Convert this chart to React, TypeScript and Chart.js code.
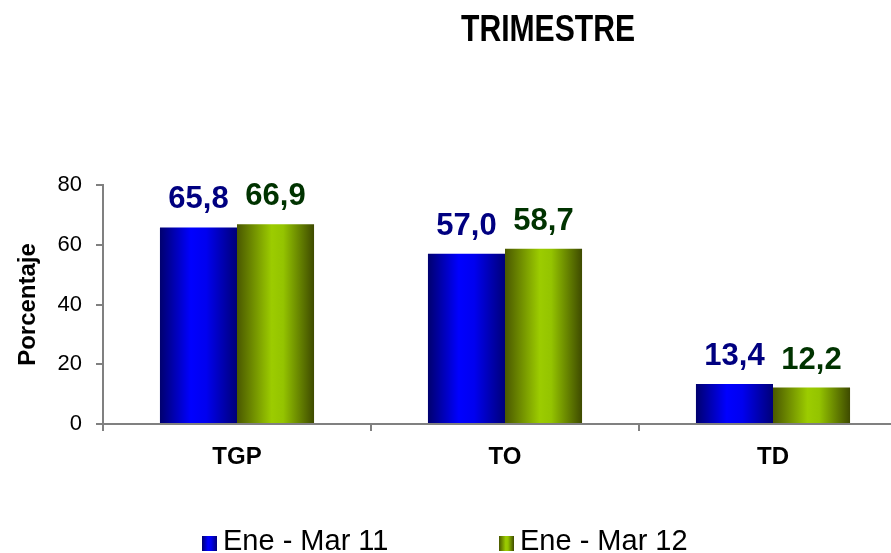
import React, { useEffect, useRef } from "react";
import { Chart, registerables } from "chart.js";

Chart.register(...registerables);

const CATEGORIES = ["TGP", "TO", "TD"];
const SERIES_NAMES = ["Ene - Mar 11", "Ene - Mar 12"];
const SERIES_2011 = [65.8, 57.0, 13.4];
const SERIES_2012 = [66.9, 58.7, 12.2];
const Y_TICKS = [0, 20, 40, 60, 80];
const TITLE = "TRIMESTRE";
const Y_TITLE = "Porcentaje";

const CAT_PCT = 0.575;
const FONT = '"Liberation Sans", Arial, sans-serif';

const GRAD_STOPS = [
  [
    [0, "#00006e"],
    [0.4, "#0000ff"],
    [0.6, "#0000f0"],
    [1, "#000078"],
  ],
  [
    [0, "#4a5800"],
    [0.45, "#9ccc00"],
    [0.6, "#94c400"],
    [1, "#3e4a00"],
  ],
] as [number, string][][];

const LABEL_COLORS = ["#000080", "#003300"];
const SOLID = ["#0000ff", "#99cc00"];

function barGradient(c: any, ds: number) {
  const chart = c.chart;
  const xs = chart.scales && chart.scales.x;
  if (!xs || c.dataIndex == null || !isFinite(xs.width)) return SOLID[ds];
  const catW = xs.width / CATEGORIES.length;
  const bw = (catW * CAT_PCT) / 2;
  const center = xs.getPixelForValue(c.dataIndex);
  const left = ds === 0 ? center - bw : center;
  const g = chart.ctx.createLinearGradient(left, 0, left + bw, 0);
  GRAD_STOPS[ds].forEach(([o, col]) => g.addColorStop(o, col));
  return g;
}

const valueLabels = {
  id: "valueLabels",
  afterDatasetsDraw(chart: any) {
    const ctx = chart.ctx;
    ctx.save();
    ctx.font = `bold 31px ${FONT}`;
    ctx.textAlign = "center";
    ctx.textBaseline = "alphabetic";
    chart.data.datasets.forEach((d: any, di: number) => {
      const meta = chart.getDatasetMeta(di);
      meta.data.forEach((el: any, i: number) => {
        const v = d.data[i] as number;
        ctx.fillStyle = LABEL_COLORS[di];
        ctx.fillText(v.toFixed(1).replace(".", ","), el.x, el.y - 19);
      });
    });
    ctx.restore();
  },
};

function cssGrad(ds: number) {
  return `linear-gradient(to right, ${GRAD_STOPS[ds]
    .map(([o, c]) => `${c} ${o * 100}%`)
    .join(", ")})`;
}

export default function App() {
  const ref = useRef<HTMLCanvasElement | null>(null);

  useEffect(() => {
    document.body.style.margin = "0";
    document.body.style.overflow = "hidden";
    const canvas = ref.current;
    if (!canvas) return;
    const chart = new Chart(canvas, {
      type: "bar",
      data: {
        labels: CATEGORIES,
        datasets: [
          {
            label: SERIES_NAMES[0],
            data: SERIES_2011,
            backgroundColor: (c: any) => barGradient(c, 0),
            categoryPercentage: CAT_PCT,
            barPercentage: 1,
          },
          {
            label: SERIES_NAMES[1],
            data: SERIES_2012,
            backgroundColor: (c: any) => barGradient(c, 1),
            categoryPercentage: CAT_PCT,
            barPercentage: 1,
          },
        ],
      },
      options: {
        responsive: false,
        animation: false,
        devicePixelRatio: 1,
        layout: { padding: { top: 185, left: 0, right: 13, bottom: 79 } },
        plugins: {
          legend: { display: false },
          title: { display: false },
          tooltip: { enabled: false },
        },
        scales: {
          x: {
            offset: true,
            grid: {
              display: true,
              offset: true,
              drawOnChartArea: false,
              drawTicks: true,
              tickLength: 7,
              color: "#808080",
              lineWidth: 2,
            },
            border: { display: true, color: "#808080", width: 2 },
            ticks: {
              color: "#000",
              font: { family: FONT, size: 24, weight: "bold" },
              padding: 12,
              maxRotation: 0,
            },
            afterFit(scale: any) {
              scale.height = 50;
              scale.paddingLeft = 0;
              scale.paddingRight = 0;
            },
          },
          y: {
            min: 0,
            max: 80,
            afterBuildTicks(scale: any) {
              scale.ticks = Y_TICKS.map((v) => ({ value: v }));
            },
            grid: {
              display: true,
              drawOnChartArea: false,
              drawTicks: true,
              tickLength: 7,
              color: "#808080",
              lineWidth: 2,
            },
            border: { display: true, color: "#808080", width: 2 },
            ticks: {
              color: "#000",
              font: { family: FONT, size: 22 },
              padding: 14,
            },
            title: {
              display: true,
              text: Y_TITLE,
              color: "#000",
              font: { family: FONT, size: 24, weight: "bold" },
              padding: { top: 14, bottom: 0 },
            },
            afterFit(scale: any) {
              scale.width = 103;
              scale.paddingTop = 0;
              scale.paddingBottom = 0;
            },
          },
        },
      },
      plugins: [valueLabels],
    } as any);
    return () => chart.destroy();
  }, []);

  const legendLefts = [202, 499];

  return (
    <div
      style={{
        position: "fixed",
        left: 0,
        top: 0,
        width: 891,
        height: 553,
        overflow: "hidden",
        background: "#fff",
      }}
    >
      <canvas
        ref={ref}
        width={920}
        height={553}
        style={{ position: "absolute", left: 0, top: 0, width: 920, height: 553 }}
      />
      <div
        style={{
          position: "absolute",
          left: 461,
          top: 10,
          fontFamily: FONT,
          fontWeight: "bold",
          fontSize: 37,
          lineHeight: "37px",
          whiteSpace: "nowrap",
          transform: "scaleX(0.814)",
          transformOrigin: "left top",
          color: "#000",
        }}
      >
        {TITLE}
      </div>
      {SERIES_NAMES.map((name, i) => (
        <div
          key={name}
          style={{
            position: "absolute",
            left: legendLefts[i],
            top: 526,
            height: 28,
            display: "flex",
            alignItems: "flex-start",
            whiteSpace: "nowrap",
          }}
        >
          <span
            style={{
              display: "inline-block",
              width: 15,
              height: 15,
              marginTop: 10,
              background: cssGrad(i),
            }}
          />
          <span
            style={{
              marginLeft: 6,
              fontFamily: FONT,
              fontSize: 29,
              lineHeight: "28px",
              color: "#000",
            }}
          >
            {name}
          </span>
        </div>
      ))}
    </div>
  );
}
